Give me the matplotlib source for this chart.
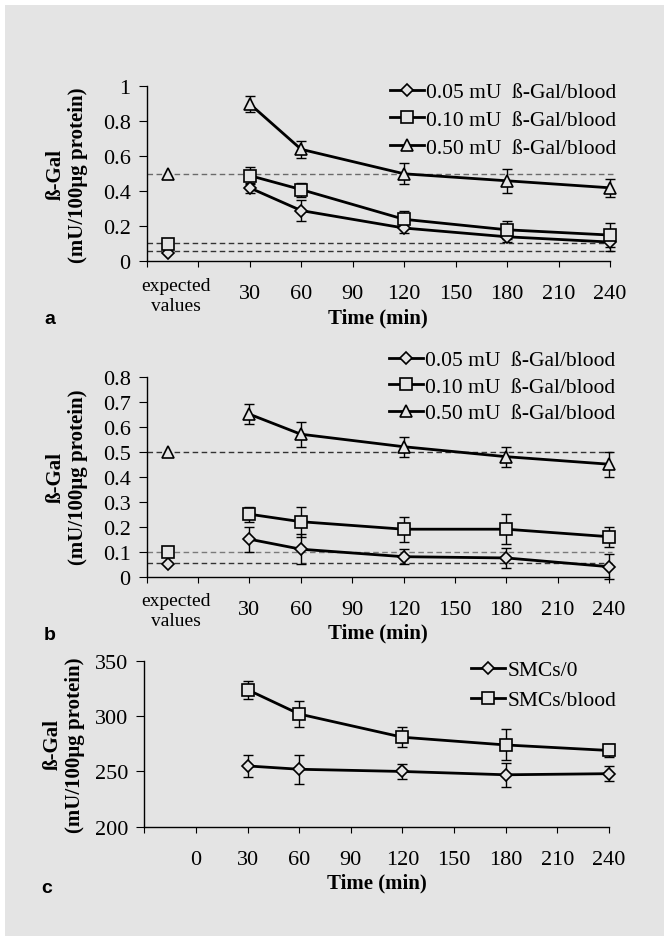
import matplotlib
matplotlib.use("Agg")
import matplotlib.pyplot as plt
from matplotlib.patches import Rectangle
from matplotlib.transforms import blended_transform_factory

W, H = 664, 937
BG = "#e4e4e4"
SERIF = "Liberation Serif"

times = [30, 60, 120, 180, 240]
expected_x = -17.5

# panel a
a_labels = ["0.05 mU  ß-Gal/blood", "0.10 mU  ß-Gal/blood", "0.50 mU  ß-Gal/blood"]
a_expected = [0.05, 0.10, 0.50]
a_low = [0.42, 0.29, 0.19, 0.14, 0.11]
a_low_err = [0.03, 0.06, 0.03, 0.03, 0.05]
a_mid = [0.49, 0.41, 0.24, 0.18, 0.15]
a_mid_err = [0.05, 0.04, 0.045, 0.05, 0.07]
a_high = [0.90, 0.64, 0.50, 0.46, 0.42]
a_high_err = [0.045, 0.05, 0.06, 0.07, 0.05]
a_refs = [0.5, 0.106, 0.057]

# panel b
b_labels = a_labels
b_expected = [0.05, 0.10, 0.50]
b_low = [0.15, 0.11, 0.08, 0.075, 0.04]
b_low_err = [0.05, 0.06, 0.03, 0.04, 0.05]
b_mid = [0.25, 0.22, 0.19, 0.19, 0.16]
b_mid_err = [0.03, 0.06, 0.05, 0.06, 0.04]
b_high = [0.65, 0.57, 0.52, 0.48, 0.45]
b_high_err = [0.04, 0.05, 0.04, 0.04, 0.05]
b_refs = [0.5, 0.1, 0.055]

# panel c
c_labels = ["SMCs/0", "SMCs/blood"]
c_smc0 = [255, 252, 250, 247, 248]
c_smc0_err = [10, 13, 7, 11, 7]
c_blood = [324, 302, 281, 274, 269]
c_blood_err = [8, 12, 9, 14, 6]

MARKERS = ["D", "s", "^"]
MSIZES = [6.5, 8, 8.5]
FS = 16

plt.rcParams["font.family"] = SERIF
fig = plt.figure(figsize=(W / 100, H / 100), dpi=100, facecolor="white")
fig.patches.append(Rectangle((5 / W, 0), 1, 1 - 6 / H, transform=fig.transFigure,
                             facecolor=BG, edgecolor="none", zorder=-10))


def box(left, right, top, bottom):
    return [left / W, 1 - bottom / H, (right - left) / W, (bottom - top) / H]


def style(ax, yticks, ylabels, xlabelled, ylab_x):
    for s in ("top", "right"):
        ax.spines[s].set_visible(False)
    for s in ("left", "bottom"):
        ax.spines[s].set_linewidth(1.0)
    ax.set_facecolor("none")
    ax.set_xlim(-30, 240)
    ax.set_xticks(range(-30, 241, 30))
    ax.set_xticklabels([str(t) if t in xlabelled else "" for t in range(-30, 241, 30)])
    ax.set_yticks(yticks)
    ax.set_yticklabels(ylabels)
    ax.set_ylim(yticks[0], yticks[-1])
    ax.tick_params(axis="x", direction="out", length=4.5, width=0.8, pad=12, labelsize=FS)
    ax.tick_params(axis="y", direction="out", length=5.5, width=0.8, pad=6, labelsize=FS)
    tr = blended_transform_factory(ax.transData, ax.transAxes)
    ax.annotate("Time (min)", xy=(105, 0), xycoords=tr, xytext=(0, -56),
                textcoords="offset pixels", ha="center", va="center",
                fontsize=15, fontweight="bold")
    pos = ax.get_position()
    fig.text(ylab_x / W, pos.y0 + pos.height / 2, "ß-Gal\n(mU/100µg protein)",
             rotation=90, ha="center", va="center", multialignment="center",
             fontsize=15, fontweight="bold", linespacing=1.15)


def series(ax, y, err, marker, ms, label):
    ax.errorbar(times, y, yerr=err, fmt="none", ecolor="black", elinewidth=1.0,
                capsize=3.3, capthick=1.0, zorder=3, clip_on=False)
    ax.plot(times, y, color="black", lw=2.0, marker=marker, ms=ms,
            mfc=BG, mec="black", mew=1.2, label=label, zorder=4, clip_on=False)


def expected(ax, values, refs, ref_colors):
    for v, m, ms in zip(values, MARKERS, MSIZES):
        ax.plot([expected_x], [v], marker=m, ms=ms, mfc=BG, mec="black",
                mew=1.2, ls="none", zorder=4, clip_on=False)
    for r, c in zip(refs, ref_colors):
        ax.plot([-30, 242], [r, r], color=c, lw=1.0, ls=(0, (4, 2.5)),
                zorder=2, clip_on=False)
    tr = blended_transform_factory(ax.transData, ax.transAxes)
    ax.annotate("expected\nvalues", xy=(-13, 0), xycoords=tr, xytext=(0, -34),
                textcoords="offset pixels", ha="center", va="center",
                fontsize=14, linespacing=1.25)


def legend(ax, left, top, spacing):
    ax.legend(loc="upper left", bbox_to_anchor=(left / W, 1 - top / H),
              bbox_transform=fig.transFigure, frameon=False, borderpad=0,
              borderaxespad=0, handlelength=1.6, handletextpad=0.08,
              labelspacing=spacing, fontsize=15.5)


# panel a
ax_a = fig.add_axes(box(146.7, 610, 87.3, 262.3))
series(ax_a, a_low, a_low_err, MARKERS[0], MSIZES[0], a_labels[0])
series(ax_a, a_mid, a_mid_err, MARKERS[1], MSIZES[1], a_labels[1])
series(ax_a, a_high, a_high_err, MARKERS[2], MSIZES[2], a_labels[2])
expected(ax_a, a_expected, a_refs, ["#6a6a6a", "#333333", "#333333"])
style(ax_a, [0, 0.2, 0.4, 0.6, 0.8, 1.0], ["0", "0.2", "0.4", "0.6", "0.8", "1"],
      times + [90, 150, 210], 66.5)
legend(ax_a, 390, 83, 0.36)

# panel b
ax_b = fig.add_axes(box(146.7, 609, 377.7, 577.7))
series(ax_b, b_low, b_low_err, MARKERS[0], MSIZES[0], b_labels[0])
series(ax_b, b_mid, b_mid_err, MARKERS[1], MSIZES[1], b_labels[1])
series(ax_b, b_high, b_high_err, MARKERS[2], MSIZES[2], b_labels[2])
expected(ax_b, b_expected, b_refs, ["#333333", "#7a7a7a", "#333333"])
b_ticks = [i / 10 for i in range(9)]
style(ax_b, b_ticks, ["0"] + ["%.1f" % t for t in b_ticks[1:]],
      times + [90, 150, 210], 66.5)
legend(ax_b, 389, 351, 0.3)

# panel c
ax_c = fig.add_axes(box(144.3, 609, 662, 827.7))
series(ax_c, c_smc0, c_smc0_err, MARKERS[0], MSIZES[0], c_labels[0])
series(ax_c, c_blood, c_blood_err, MARKERS[1], MSIZES[1], c_labels[1])
style(ax_c, [200, 250, 300, 350], ["200", "250", "300", "350"],
      [0, 30, 60, 90, 120, 150, 180, 210, 240], 64)
legend(ax_c, 471, 661, 0.48)

for letter, x, y in [("a", 50, 320), ("b", 50, 635), ("c", 47, 889)]:
    fig.text(x / W, 1 - y / H, letter, family="Liberation Sans", fontweight="bold",
             fontsize=14, ha="center", va="center")

fig.savefig("out.png", dpi=100, facecolor="white")
